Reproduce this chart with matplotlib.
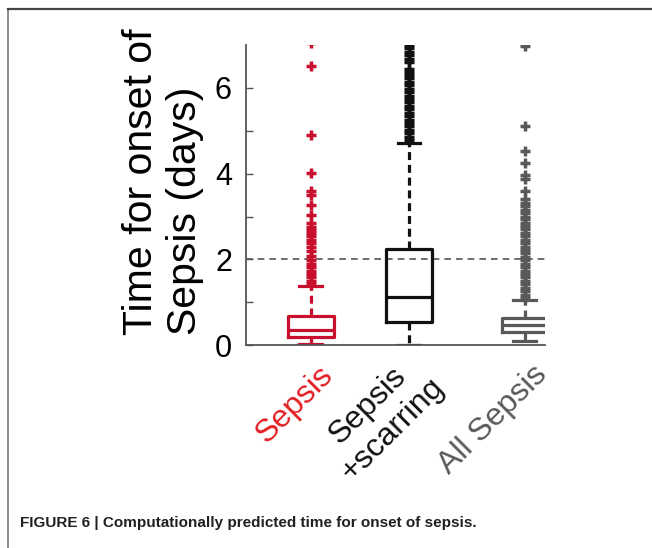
import matplotlib
matplotlib.use("Agg")
import matplotlib.pyplot as plt
from matplotlib.lines import Line2D
from matplotlib.transforms import ScaledTranslation

plt.rcParams['font.family'] = ['Liberation Sans', 'DejaVu Sans']

labels = ['Sepsis', 'Sepsis\n+scarring', 'All Sepsis']
positions = [1, 1.92, 3]
box_colors = ['#c8102e', '#111111', '#58595b']
label_colors = ['#e31e24', '#111111', '#58595b']

# box statistics (days)
q1 = [0.19, 0.55, 0.31]
med = [0.35, 1.13, 0.47]
q3 = [0.69, 2.24, 0.625]
wlo = [0.02, 0.0, 0.10]
whi = [1.38, 4.72, 1.06]

red_out = [1.42, 1.5, 1.58, 1.66, 1.74, 1.82, 1.9, 1.98, 2.07, 2.19, 2.3, 2.38,
           2.46, 2.54, 2.62, 2.69, 2.76, 2.85, 3.04, 3.28, 3.5, 3.6, 4.02, 4.89,
           6.5, 7.05]
black_out = [4.78, 4.86, 4.94, 5.02, 5.1, 5.18, 5.26, 5.34, 5.42, 5.5, 5.58,
             5.66, 5.74, 5.82, 5.9, 5.98, 6.06, 6.14, 6.22, 6.3, 6.38, 6.44,
             6.6, 6.68, 6.76, 6.84, 6.92, 7.0]
gray_out = [1.1, 1.18, 1.26, 1.34, 1.42, 1.5, 1.58, 1.66, 1.74, 1.82, 1.9, 1.98,
            2.06, 2.14, 2.22, 2.3, 2.38, 2.46, 2.54, 2.62, 2.7, 2.78, 2.86, 2.94,
            3.0, 3.08, 3.16, 3.24, 3.32, 3.42, 3.59, 3.88, 3.97, 4.24, 4.53,
            5.1, 6.98]
outliers = [red_out, black_out, gray_out]

fig = plt.figure(figsize=(6.52, 5.48), dpi=100)
ax = fig.add_axes([0.377, 0.370, 0.459, 0.548])

stats = []
for i in range(3):
    stats.append(dict(q1=q1[i], med=med[i], q3=q3[i], whislo=wlo[i],
                      whishi=whi[i], fliers=outliers[i], label=labels[i]))

for i in range(3):
    c = box_colors[i]
    ax.bxp([stats[i]], positions=[positions[i]], widths=0.43, capwidths=0.21,
           boxprops=dict(color=c, linewidth=2.3),
           medianprops=dict(color=c, linewidth=2.3),
           whiskerprops=dict(color=c, linewidth=2.3, linestyle=(0, (2.5, 1.5))),
           capprops=dict(color=c, linewidth=2.3),
           flierprops=dict(marker='+', markeredgecolor=c, markersize=7.5,
                           markeredgewidth=2.5, linestyle='none'),
           manage_ticks=False)

ax.axhline(2, color='#555555', linestyle=(0, (4, 3)), linewidth=1.2, zorder=0)

ax.set_xlim(0.395, 3.19)
ax.set_ylim(0, 7)
ax.set_xticks(positions)
ax.set_xticklabels(labels, rotation=45, ha='right', va='center',
                   rotation_mode='anchor', multialignment='center', fontsize=23)
ax.tick_params(axis='x', length=0, pad=14)
ax.set_yticks([0, 2, 4, 6])
ax.set_yticks([1, 3, 5], minor=True)
ax.tick_params(axis='y', which='both', direction='in', length=5, width=1,
               color='#555555', labelsize=22, pad=10)
# nudge the slanted labels like the original
shift = ScaledTranslation(0.18, -0.06, fig.dpi_scale_trans)
for t, c in zip(ax.get_xticklabels(), label_colors):
    t.set_color(c)
    t.set_transform(t.get_transform() + shift)
for s in ['top', 'right']:
    ax.spines[s].set_visible(False)
for s in ['left', 'bottom']:
    ax.spines[s].set_color('#555555')
    ax.spines[s].set_linewidth(1.3)

ax.set_ylabel('Time for onset of\nSepsis (days)', fontsize=29.5,
              multialignment='left', linespacing=1.2)
ax.yaxis.set_label_coords(-0.14, 0.543)

# figure frame and caption
fig.add_artist(Line2D([0.012, 0.012], [0, 0.984], color='#777777', lw=1.2))
fig.add_artist(Line2D([0.012, 1], [0.984, 0.984], color='#444444', lw=1.6))
fig.text(0.031, 0.038, 'FIGURE 6 | Computationally predicted time for onset of sepsis.',
         fontsize=11, fontweight='bold', color='#231f20')

fig.savefig('out.png', dpi=100)
